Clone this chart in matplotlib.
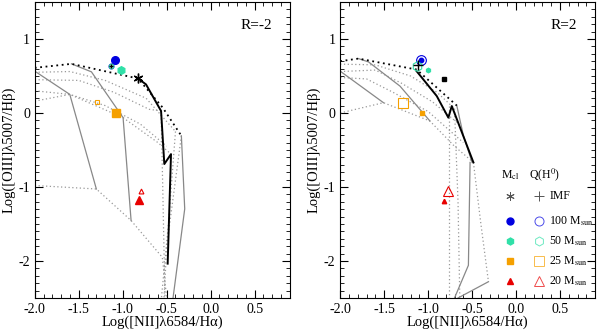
import numpy as np
import matplotlib.pyplot as plt

plt.rcParams['font.family'] = ['Liberation Serif', 'DejaVu Serif']
plt.rcParams['mathtext.fontset'] = 'stix'

# ---- grid lines, left panel (R=-2) ----
l_black_dot = ([-2.0, -1.583, -0.826, -0.545, -0.333], [0.61, 0.664, 0.466, 0.072, -0.309])
l_black = ([-0.826, -0.735, -0.564, -0.527, -0.451, -0.489], [0.466, 0.386, 0.027, -0.69, -0.556, -2.036])
l_solid = [
    ([-2.0, -1.602, -1.30], [0.565, 0.251, -1.027]),
    ([-1.583, -1.356, -0.996, -0.905], [0.664, 0.556, -0.063, -1.453]),
    ([-0.333, -0.295, -0.428], [-0.309, -1.296, -2.5]),
]
l_dotted = [
    ([-2.0, -1.6, -1.2, -0.735, -0.40], [0.55, 0.56, 0.44, 0.20, -0.25]),
    ([-2.0, -1.5, -1.1, -0.70, -0.56], [0.45, 0.44, 0.28, 0.05, 0.027]),
    ([-2.0, -1.602, -1.2, -0.80, -0.50], [0.30, 0.251, 0.10, -0.15, -0.45]),
    ([-2.0, -1.602, -0.996, -0.60, -0.451], [0.16, 0.251, -0.063, -0.40, -0.556]),
    ([-2.0, -1.30, -0.905, -0.55, -0.50], [-0.98, -1.027, -1.453, -1.95, -2.5]),
    ([-0.564, -0.545, -0.52], [0.027, -1.0, -2.5]),
    ([-0.40, -0.48, -0.56], [-0.25, -1.5, -2.5]),
    ([-0.333, -0.50, -0.53], [-0.309, -1.8, -2.5]),
]

# ---- grid lines, right panel (R=2) ----
r_black_dot = ([-2.0, -1.792, -1.131, -0.731, -0.674], [0.70, 0.735, 0.587, 0.161, 0.10])
r_black = ([-1.131, -0.902, -0.77, -0.731, -0.485], [0.565, 0.229, -0.063, 0.094, -0.668])
r_solid = [
    ([-2.0, -1.508], [0.565, 0.139]),
    ([-1.792, -1.678, -1.32, -0.98], [0.735, 0.69, 0.363, -0.108]),
    ([-0.674, -0.60, -0.50], [0.10, -0.30, -0.668]),
    ([-0.523, -0.542, -0.70], [-0.668, -2.058, -2.5]),
    ([-0.314, -0.66], [-2.28, -2.5]),
]
r_dotted = [
    ([-2.0, -1.6, -1.2, -0.90, -0.70], [0.66, 0.65, 0.50, 0.28, 0.06]),
    ([-2.0, -1.6, -1.3, -0.95, -0.65], [0.56, 0.58, 0.40, 0.15, -0.15]),
    ([-2.0, -1.7, -1.4, -1.0, -0.60], [0.48, 0.46, 0.28, 0.02, -0.40]),
    ([-2.0, -1.508, -0.98, -0.70, -0.485], [0.0, 0.139, -0.108, -0.45, -0.668]),
    ([-0.76, -0.76, -0.76], [0.09, -1.2, -2.5]),
    ([-0.70, -0.66, -0.64], [0.06, -1.2, -2.5]),
    ([-0.485, -0.40, -0.314], [-0.668, -1.5, -2.28]),
]

# ---- model points ----
# order: 100, 50, 25, 20 Msun
mcl_x_l = [-1.091, -1.015, -1.08, -0.814]
mcl_y_l = [0.722, 0.578, 0.0, -1.175]
qh_x_l = [-1.128, -1.128, -1.288, -0.788]
qh_y_l = [0.641, 0.641, 0.148, -1.05]
imf_l = (-0.826, 0.466)

mcl_x_r = [-1.083, -1.003, -1.072, -0.815]
mcl_y_r = [0.722, 0.578, 0.0, -1.184]
qh_x_r = [-1.083, -1.129, -1.288, -0.776]
qh_y_r = [0.722, 0.632, 0.139, -1.058]
imf_r = (-0.818, 0.462)
plus_r = (-1.12, 0.655)

colors = ['#0000e0', '#30e0a8', '#f5a000', '#e80000']
markers = ['o', 'h', 's', '^']
labels = ['100 M$_{\\rm sun}$', '50 M$_{\\rm sun}$', '25 M$_{\\rm sun}$', '20 M$_{\\rm sun}$']

fig = plt.figure(figsize=(6, 3.3), dpi=100)
ax1 = fig.add_axes([0.058, 0.097, 0.425, 0.897])
ax2 = fig.add_axes([0.567, 0.097, 0.425, 0.897])

def grid(ax, bdot, black, solid, dotted):
    for x, y in dotted:
        ax.plot(x, y, color='#999999', lw=0.9, ls=(0, (1, 2)))
    for x, y in solid:
        ax.plot(x, y, color='#888888', lw=0.9)
    ax.plot(*bdot, color='black', lw=1.3, ls=(0, (1, 2)))
    ax.plot(*black, color='black', lw=1.4)

grid(ax1, l_black_dot, l_black, l_solid, l_dotted)
grid(ax2, r_black_dot, r_black, r_solid, r_dotted)

for i in range(4):
    ax1.plot(mcl_x_l[i], mcl_y_l[i], marker=markers[i], color=colors[i], ms=5.5, ls='none')
    ax1.plot(qh_x_l[i], qh_y_l[i], marker=markers[i], mfc='none', mec=colors[i], mew=0.8, ms=3.5, ls='none')
    ax2.plot(mcl_x_r[i], mcl_y_r[i], marker=markers[i], color=colors[i], ms=3.2, ls='none')
    ax2.plot(qh_x_r[i], qh_y_r[i], marker=markers[i], mfc='none', mec=colors[i], mew=0.8, ms=7, ls='none')
ax1.plot(*imf_l, marker=(6, 2, 0), color='black', ms=7, mew=1.0, ls='none')
ax1.plot(-1.128, 0.641, marker='+', color='black', ms=3.5, mew=1.0, ls='none')
ax2.plot(*imf_r, marker='s', color='black', ms=3.2, ls='none')
ax2.plot(*plus_r, marker='+', color='black', ms=7, mew=1.0, ls='none')

# legend (right panel)
tr = ax2.transAxes
fs = 8.5
ax2.text(0.667, 0.415, 'M$_{\\rm cl}$', transform=tr, fontsize=fs, ha='center', va='center')
ax2.text(0.80, 0.415, 'Q(H$^0$)', transform=tr, fontsize=fs, ha='center', va='center')
ax2.plot(0.667, 0.345, marker=(6, 2, 0), color='#555555', ms=6, mew=0.7, transform=tr, ls='none')
ax2.plot(0.78, 0.345, marker='+', color='#555555', ms=7, mew=0.7, transform=tr, ls='none')
ax2.text(0.82, 0.345, 'IMF', transform=tr, fontsize=fs, va='center')
for i in range(4):
    yy = 0.26 - i * 0.068
    ax2.plot(0.667, yy, marker=markers[i], color=colors[i], ms=5, transform=tr, ls='none')
    ax2.plot(0.78, yy, marker=markers[i], mfc='none', mec=colors[i], mew=0.7, ms=6.5, alpha=0.7, transform=tr, ls='none')
    ax2.text(0.82, yy, labels[i], transform=tr, fontsize=fs, va='center')

for ax, tag in [(ax1, 'R=-2'), (ax2, 'R=2')]:
    ax.set_xlim(-2.0, 0.9)
    ax.set_ylim(-2.5, 1.5)
    ax.set_xticks([-2.0, -1.5, -1.0, -0.5, 0.0, 0.5])
    ax.set_xticklabels(['-2.0', '-1.5', '-1.0', '-0.5', '0.0', '0.5'])
    ax.set_yticks([-2, -1, 0, 1])
    ax.set_yticklabels(['-2', '-1', '0', '1'])
    ax.set_xticks(np.arange(-2.0, 0.91, 0.1), minor=True)
    ax.set_yticks(np.arange(-2.5, 1.51, 0.1), minor=True)
    ax.tick_params(which='both', direction='in', top=True, right=True, labelsize=10)
    ax.tick_params(which='major', length=6, width=0.8)
    ax.tick_params(which='minor', length=3, width=0.6)
    ax.set_xlabel('Log([NII]λ6584/Hα)', fontsize=10.5, labelpad=0)
    ax.set_ylabel('Log([OIII]λ5007/Hβ)', fontsize=10.5, labelpad=2)
    ax.text(0.93, 0.91, tag, transform=ax.transAxes, fontsize=11, ha='right')

fig.savefig('out.png', dpi=100)
